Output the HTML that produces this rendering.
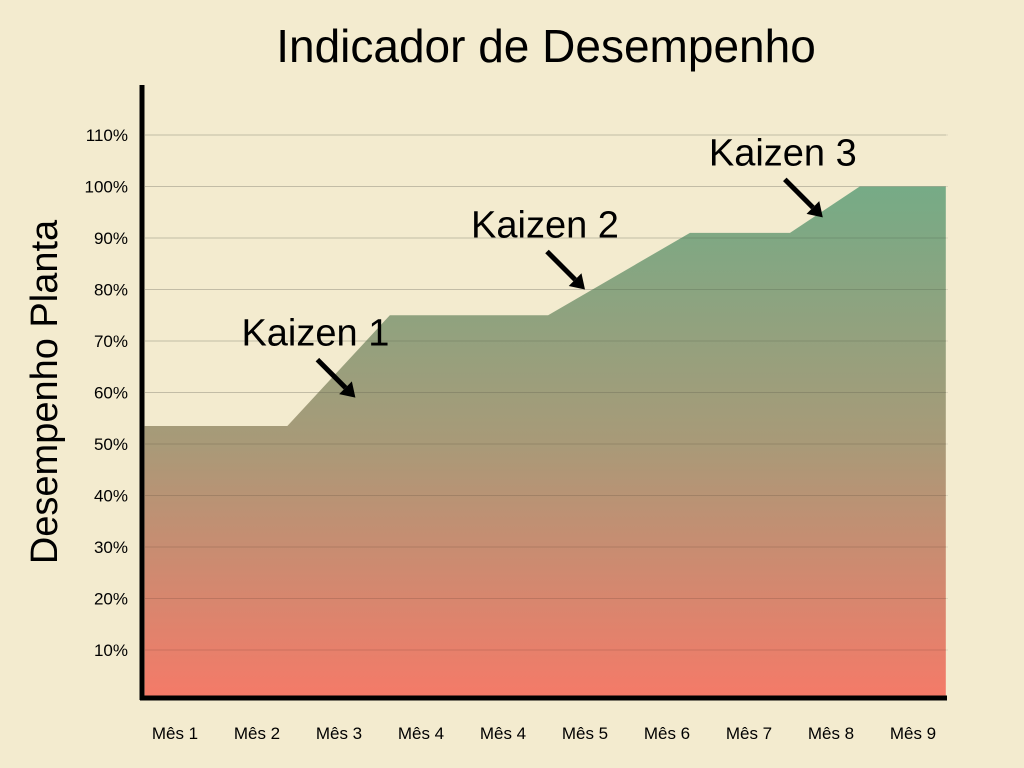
<!DOCTYPE html>
<html><head><meta charset="utf-8"><style>
body{margin:0;background:#f3ebcf;}
svg{display:block;font-family:"Liberation Sans",sans-serif;}
</style></head><body>
<svg width="1024" height="768" viewBox="0 0 1024 768">
<defs>
<linearGradient id="g" x1="0" y1="187" x2="0" y2="698" gradientUnits="userSpaceOnUse">
<stop offset="0" stop-color="#76ab86"/>
<stop offset="0.5" stop-color="#a89a78"/>
<stop offset="1" stop-color="#f57a68"/>
</linearGradient>
</defs>
<rect width="1024" height="768" fill="#f3ebcf"/>
<text x="546" y="62" font-size="46" text-anchor="middle">Indicador de Desempenho</text>
<text transform="translate(57,392) rotate(-90)" font-size="38" text-anchor="middle">Desempenho Planta</text>
<g id="grid"></g><g id="area"></g><g id="gridover"></g><g id="ylabels"></g><g id="xlabels"></g><g id="notes"></g>
<line x1="142" y1="85" x2="142" y2="700" stroke="#000" stroke-width="5"/>
<line x1="140" y1="698" x2="947" y2="698" stroke="#000" stroke-width="5"/>
</svg>
<script>
const categories=["Mês 1","Mês 2","Mês 3","Mês 4","Mês 4","Mês 5","Mês 6","Mês 7","Mês 8","Mês 9"];
const yTicks=[10,20,30,40,50,60,70,80,90,100,110];
const pointX=[-0.37,1.37,2.62,4.55,6.28,7.5,8.35,9.4];
const pointY=[53.5,53.5,75,75,91,91,100,100];
const notes=["Kaizen 1","Kaizen 2","Kaizen 3"];
const noteAt=[2.2,5.0,7.9];
const noteVal=[59,80,94];
const NS="http://www.w3.org/2000/svg";
const X=i=>175+82*i;
const Y=v=>701.5-v*5.15;
function mk(t,a,p){const e=document.createElementNS(NS,t);for(const k in a)e.setAttribute(k,a[k]);p.appendChild(e);return e;}
const grid=document.getElementById('grid'),gover=document.getElementById('gridover');
yTicks.forEach(v=>{
 const l=mk('line',{x1:145,x2:948,y1:Y(v),y2:Y(v),stroke:'#ddd6bd','stroke-width':1},grid);
 
 
 const l2=mk('line',{x1:145,x2:946,y1:Y(v),y2:Y(v),stroke:'rgba(0,0,0,0.12)','stroke-width':1},gover);
 
 
 const t=mk('text',{x:128,y:Y(v)+6,'font-size':17,'text-anchor':'end'},document.getElementById('ylabels'));
 t.textContent=v+'%';
 
 
});
let d='M'+X(pointX[0])+','+698;
pointX.forEach((x,i)=>{d+=' L'+X(x)+','+Y(pointY[i]);});
d+=' L'+X(pointX[pointX.length-1])+',698 Z';
const a=mk('path',{d:d,fill:'url(#g)'},document.getElementById('area'));


categories.forEach((c,i)=>{
 const t=mk('text',{x:X(i),y:739,'font-size':17,'text-anchor':'middle'},document.getElementById('xlabels'));
 t.textContent=c;
 
 
});
const ng=document.getElementById('notes');
notes.forEach((n,i)=>{
 const ex=X(noteAt[i]),ey=Y(noteVal[i]);
 const sx=ex-38,sy=ey-38;
 const t=mk('text',{x:sx-2,y:sy-14,'font-size':38,'text-anchor':'middle'},ng);
 t.textContent=n;
 
 
 const ang=Math.atan2(ey-sy,ex-sx);
 const bx=ex-14*Math.cos(ang),by=ey-14*Math.sin(ang);
 const l=mk('line',{x1:sx,y1:sy,x2:bx,y2:by,stroke:'#000','stroke-width':5},ng);
 
 
 const px=-Math.sin(ang)*9,py=Math.cos(ang)*9;
 const h=mk('polygon',{points:`${ex},${ey} ${bx+px},${by+py} ${bx-px},${by-py}`,fill:'#000'},ng);
 
 
});
</script>
</body></html>
